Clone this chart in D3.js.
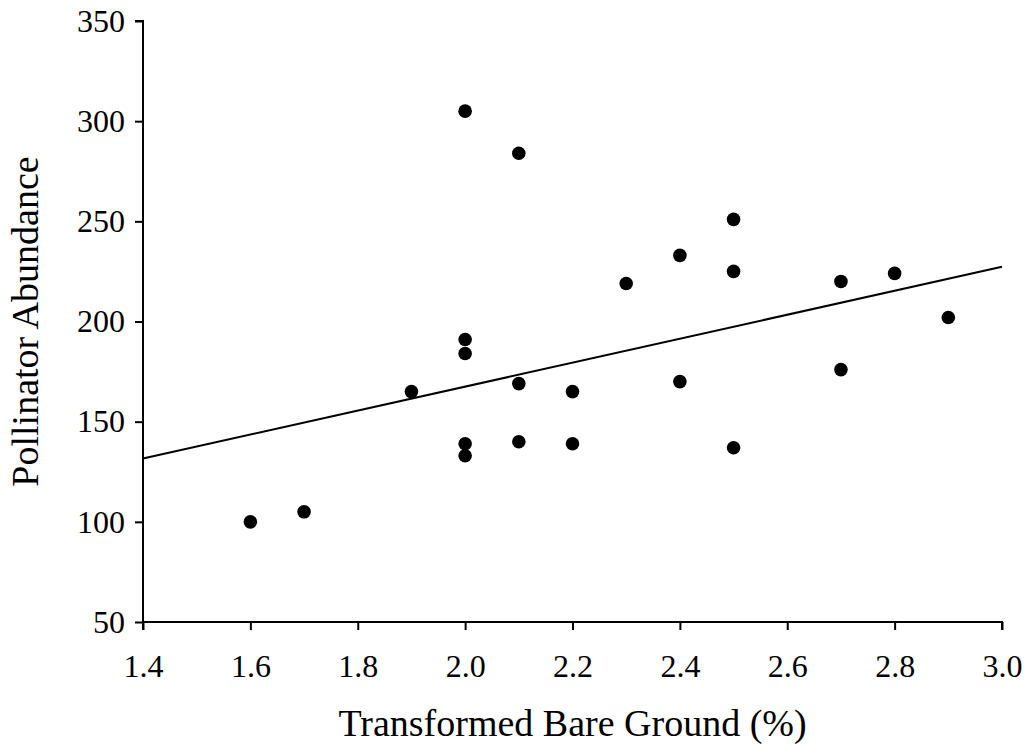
<!DOCTYPE html>
<html>
<head>
<meta charset="utf-8">
<script src="https://cdn.jsdelivr.net/npm/d3@7"></script>
<style>
  body { margin: 0; background: #fff; }
  svg { display: block; }
  text { font-family: "Liberation Serif", "Times New Roman", serif; fill: #000; }
</style>
</head>
<body>
<svg width="1026" height="746"></svg>
<script>
// bare ground (transformed) vs pollinator abundance
var bareGround = [1.6, 1.7, 1.9, 2.0, 2.0, 2.0, 2.0, 2.0, 2.1, 2.1, 2.1, 2.2, 2.2,
                  2.3, 2.4, 2.4, 2.5, 2.5, 2.5, 2.7, 2.7, 2.8, 2.9];
var abundance = [100, 105, 165, 305, 191, 184, 139, 133, 284, 169, 140, 165, 139,
                 219, 233, 170, 251, 225, 137, 220, 176, 224, 202];

// fitted trend line
var fitX = [1.4, 3.0];
var fitY = [131.6, 227.3];

var xTicks = [1.4, 1.6, 1.8, 2.0, 2.2, 2.4, 2.6, 2.8, 3.0];
var yTicks = [50, 100, 150, 200, 250, 300, 350];

var mLeft = 143, mTop = 21, w = 859, h = 601;

var svg = d3.select('svg');
var g = svg.append('g').attr('transform', 'translate(' + mLeft + ',' + mTop + ')');

var x = d3.scaleLinear().domain([1.4, 3.0]).range([0, w]);
var y = d3.scaleLinear().domain([50, 350]).range([h, 0]);

var yAxis = g.append('g')
    .call(d3.axisLeft(y).tickValues(yTicks).tickSize(8).tickPadding(10).tickFormat(d3.format('d')));
var xAxis = g.append('g')
    .attr('transform', 'translate(0,' + h + ')')
    .call(d3.axisBottom(x).tickValues(xTicks).tickSize(8).tickPadding(24).tickFormat(d3.format('.1f')));

[xAxis, yAxis].forEach(function(a) {
  a.select('.domain').attr('stroke', '#000').attr('stroke-width', 2);
  a.selectAll('.tick line').attr('stroke', '#000').attr('stroke-width', 2);
  a.selectAll('.tick text').style('font-size', '32px').attr('fill', '#000');
});
yAxis.select('.domain').attr('d', 'M-8,0H0V' + h);
xAxis.select('.domain').attr('d', 'M0,8V0H' + w + 'V8');

var pts = bareGround.map(function(d, i) { return { x: d, y: abundance[i] }; });

g.append('path')
    .datum(fitX.map(function(d, i) { return [d, fitY[i]]; }))
    .attr('fill', 'none')
    .attr('stroke', '#000')
    .attr('stroke-width', 2)
    .attr('d', d3.line().x(function(d) { return x(d[0]); }).y(function(d) { return y(d[1]); }));

g.selectAll('circle')
    .data(pts)
    .enter().append('circle')
    .attr('cx', function(d) { return x(d.x); })
    .attr('cy', function(d) { return y(d.y); })
    .attr('r', 6.8)
    .attr('fill', '#000');

svg.append('text')
    .attr('transform', 'translate(38,' + (mTop + h / 2) + ') rotate(-90)')
    .attr('text-anchor', 'middle')
    .style('font-size', '38px')
    .text('Pollinator Abundance');

svg.append('text')
    .attr('x', mLeft + w / 2)
    .attr('y', 736)
    .attr('text-anchor', 'middle')
    .style('font-size', '38px')
    .text('Transformed Bare Ground (%)');
</script>
</body>
</html>
